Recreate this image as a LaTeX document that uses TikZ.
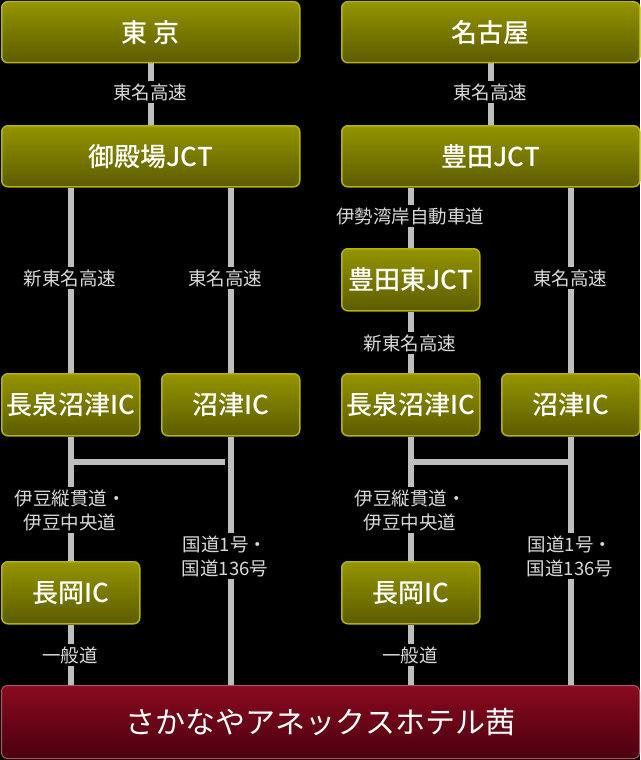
\documentclass[tikz,border=0pt]{standalone}
\usepackage{fontspec}
\setmainfont{Noto Sans CJK JP}[BoldFont={Noto Sans CJK JP Medium}]
\usetikzlibrary{backgrounds}
\definecolor{olivetop}{HTML}{949400}
\definecolor{olivebot}{HTML}{5C5C00}
\definecolor{oliveline}{HTML}{B4B400}
\definecolor{redtop}{HTML}{8A0A1E}
\definecolor{redbot}{HTML}{4A0010}
\definecolor{road}{HTML}{BEBEBE}

\begin{document}
\begin{tikzpicture}[x=1pt, y=-1pt,
  stop/.style = {draw=oliveline, line width=1.5pt, rounded corners=6pt,
    top color=olivetop, bottom color=olivebot, text=white,
    font=\fontsize{26}{28}\selectfont\bfseries, inner sep=0pt, anchor=north west},
  wide/.style = {stop, minimum width=298pt, minimum height=61pt},
  narrow/.style = {stop, minimum width=138pt, minimum height=62pt},
  goal/.style = {draw=redtop!70!white, line width=1pt, rounded corners=6pt,
    top color=redtop, bottom color=redbot, text=white,
    font=\fontsize{30}{32}\selectfont, inner sep=0pt, anchor=north west,
    minimum width=638pt, minimum height=73pt},
  route/.style = {fill=black, text=white!85!black, inner sep=2pt,
    font=\fontsize{18.5}{24}\selectfont, align=center},
  road/.style = {draw=road, line width=6pt}]

  % Define nodes
  \node[wide] (tokyo) at (1,1) {東 京};
  \node[wide] (nagoya) at (341,1) {名古屋};
  \node[wide] (gotemba) at (1,125) {御殿場JCT};
  \node[wide] (toyota) at (341,125) {豊田JCT};
  \node[narrow] (toyotae) at (341,248) {豊田東JCT};
  \node[narrow] (nagaizL) at (1,373) {長泉沼津IC};
  \node[narrow] (numazuL) at (161,373) {沼津IC};
  \node[narrow] (nagaizR) at (341,373) {長泉沼津IC};
  \node[narrow] (numazuR) at (501,373) {沼津IC};
  \node[narrow] (nagaokaL) at (1,561) {長岡IC};
  \node[narrow] (nagaokaR) at (341,561) {長岡IC};
  \node[goal] (hotel) at (1,685) {さかなやアネックスホテル茜};

  \coordinate (jL1) at (70,462);
  \coordinate (jL2) at (225,462);
  \coordinate (jR1) at (410,462);
  \coordinate (jR2) at (570,462);

  % Draw roads
  \begin{scope}[on background layer]
    \fill[black] (0,0) rectangle (640,760);
    \draw[road] (tokyo.south) -- (gotemba.north);
    \draw[road] (nagoya.south) -- (toyota.north);
    \draw[road] (gotemba.south -| nagaizL) -- (nagaizL.north);
    \draw[road] (nagaizL.south) -- (nagaokaL.north);
    \draw[road] (nagaokaL.south) -- (hotel.north -| nagaokaL);
    \draw[road] (gotemba.south -| numazuL) -- (numazuL.north);
    \draw[road] (numazuL.south) -- (hotel.north -| numazuL);
    \draw[road] (jL1) -- (jL2);
    \draw[road] (toyota.south -| toyotae) -- (toyotae.north);
    \draw[road] (toyotae.south) -- (nagaizR.north);
    \draw[road] (nagaizR.south) -- (nagaokaR.north);
    \draw[road] (nagaokaR.south) -- (hotel.north -| nagaokaR);
    \draw[road] (toyota.south -| numazuR) -- (numazuR.north);
    \draw[road] (numazuR.south) -- (hotel.north -| numazuR);
    \draw[road] (jR1) -- (jR2);
  \end{scope}

  % Route labels
  \node[route] at (150,92) {東名高速};
  \node[route] at (490,92) {東名高速};
  \node[route] at (70,278) {新東名高速};
  \node[route] at (225,278) {東名高速};
  \node[route] at (410,216) {伊勢湾岸自動車道};
  \node[route] at (570,278) {東名高速};
  \node[route] at (410,343) {新東名高速};
  \node[route] at (70,510) {伊豆縦貫道・\\伊豆中央道};
  \node[route] at (410,510) {伊豆縦貫道・\\伊豆中央道};
  \node[route] at (225,556) {国道1号・\\国道136号};
  \node[route] at (570,556) {国道1号・\\国道136号};
  \node[route] at (70,655) {一般道};
  \node[route] at (410,655) {一般道};
\end{tikzpicture}
\end{document}
